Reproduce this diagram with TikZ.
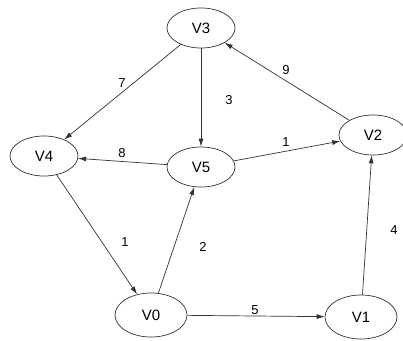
\documentclass[tikz,border=0pt]{standalone}
\usepackage{fontspec}
\setmainfont{Liberation Sans}
\usetikzlibrary{shapes.geometric,arrows.meta}
\begin{document}
\begin{tikzpicture}[x=1pt,y=-1pt,
 vert/.style={ellipse,draw=black!80,line width=0.7pt,minimum width=68pt,minimum height=40pt,inner sep=0pt,font=\fontsize{15}{15}\selectfont},
 edge/.style={draw=black!80,line width=0.7pt,-{Latex[length=8pt,width=5pt]}},
 wlab/.style={font=\fontsize{13}{13}\selectfont,inner sep=0pt}]
\useasboundingbox (0,0) rectangle (403,340);
\node[vert] (v3) at (201,28) {V3};
\node[vert] (v4) at (44,156) {V4};
\node[vert] (v5) at (201,167) {V5};
\node[vert] (v2) at (373,135) {V2};
\node[vert,minimum width=72pt,minimum height=44pt] (v0) at (151,315) {V0};
\node[vert,minimum width=72pt,minimum height=44pt] (v1) at (361,317) {V1};
\draw[edge] (v3) -- (v4);
\draw[edge] (v3) -- (v5);
\draw[edge] (v2) -- (v3);
\draw[edge] (v5) -- (v4);
\draw[edge] (v5) -- (v2);
\draw[edge] (v4) -- (v0);
\draw[edge] (v0) -- (v5);
\draw[edge] (v1) -- (v2);
\draw[edge] (v0) -- (v1);
\node[wlab] (l7) at (122,83) {7};
\node[wlab] (l3) at (229,100) {3};
\node[wlab] (l9) at (286,70) {9};
\node[wlab] (l8) at (122,153) {8};
\node[wlab] (l1a) at (286,142) {1};
\node[wlab] (l1b) at (125,242) {1};
\node[wlab] (l2) at (203,247) {2};
\node[wlab] (l4) at (394,230) {4};
\node[wlab] (l5) at (255,310) {5};
\end{tikzpicture}
\end{document}
